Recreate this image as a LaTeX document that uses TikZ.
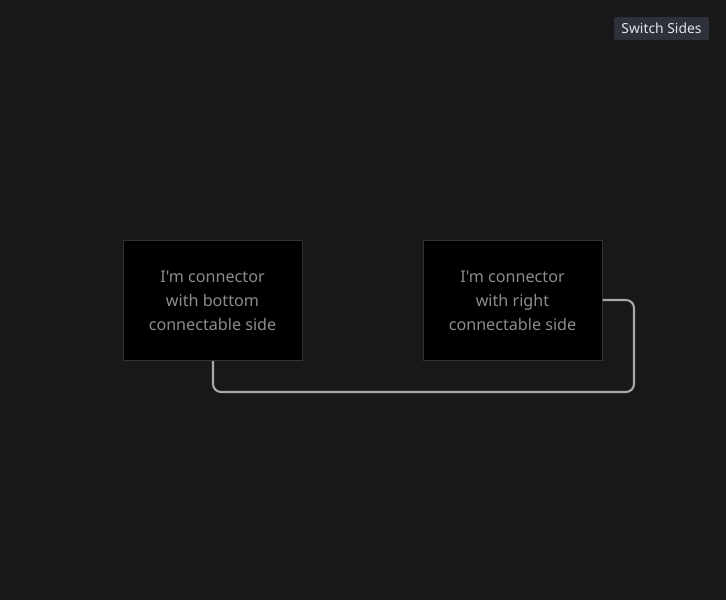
\documentclass[tikz,border=0pt]{standalone}
\usepackage{fontspec}
\setmainfont{Noto Sans}[Ligatures=TeXOff]
\definecolor{bg}{HTML}{18181B}
\definecolor{boxborder}{HTML}{333336}
\definecolor{boxtext}{HTML}{8C8C8C}
\definecolor{wire}{HTML}{A8A8AA}
\definecolor{btnfill}{HTML}{2F313A}
\definecolor{btntext}{HTML}{E4E4E7}
\tikzset{
  cbox/.style={draw=boxborder, line width=0.75pt, fill=black, minimum width=179*0.75pt, minimum height=120*0.75pt, inner sep=0pt, align=center, text=boxtext, font=\fontsize{12.1pt}{18pt}\selectfont},
  wirestyle/.style={draw=wire, line width=1.6pt, rounded corners=6pt},
  btn/.style={fill=btnfill, rounded corners=1.5pt, minimum width=95*0.75pt, minimum height=23*0.75pt, inner sep=0pt, text=btntext, font=\fontsize{10.4pt}{12pt}\selectfont}
}
\begin{document}
\begin{tikzpicture}[x=0.75pt,y=-0.75pt]
\fill[bg] (0,0) rectangle (726,600);
\useasboundingbox (0,0) rectangle (726,600);
\node[btn] (switch) at (661.5,28.5) {Switch Sides};
\node[cbox] (left) at (212.5,300.5) {I'm connector\\with bottom\\connectable side};
\node[cbox] (right) at (512.5,300.5) {I'm connector\\with right\\connectable side};
\coordinate (c1) at (213,392);
\coordinate (c2) at (634,392);
\coordinate (c3) at (634,300);
\draw[wirestyle] (left.south -| c1) -- (c1) -- (c2) -- (c3) -- (right.east |- c3);
\end{tikzpicture}
\end{document}
